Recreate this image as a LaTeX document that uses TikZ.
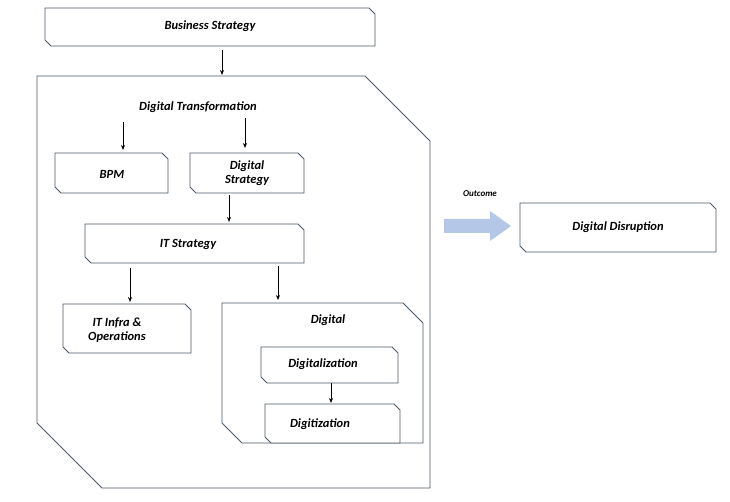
\documentclass[tikz,border=0pt]{standalone}
\usepackage{fontspec}
\setmainfont{Carlito}
\usetikzlibrary{arrows.meta}
\definecolor{edge}{HTML}{4A5868}
\definecolor{blu}{HTML}{B4C7E7}
\tikzset{
  lbl/.style={font=\bfseries\itshape\fontsize{12.5}{14}\selectfont, align=center, inner sep=0pt},
  arr/.style={-{Stealth[length=5pt,width=4pt]}, thick, black},
  box/.style={draw=edge, line width=0.8pt, fill=white}
}
% \cbox{x1}{y1}{x2}{y2}{chamfer}
\newcommand{\cbox}[5]{\draw[box] (#1,#2) -- ({#3-#5},#2) -- (#3,{#2+#5}) -- (#3,#4) -- ({#1+#5},#4) -- (#1,{#4-#5}) -- cycle;}
\begin{document}
\begin{tikzpicture}[x=1pt,y=-1pt]
\useasboundingbox (0,0) rectangle (730,502);
\cbox{45}{8}{375}{46}{6}
\node[lbl] (bs) at (210,26) {Business Strategy};
\cbox{37}{76}{430}{488}{65}
\node[lbl] (dt) at (198,107) {Digital Transformation};
\cbox{55}{153}{168}{193}{6}
\node[lbl] (bpm) at (112,174) {BPM};
\cbox{190}{153}{304}{193}{6}
\node[lbl] (ds) at (247,173) {Digital\\Strategy};
\cbox{85}{224}{304}{263}{6}
\node[lbl] (its) at (188,244) {IT Strategy};
\cbox{63}{304}{191}{353}{6}
\node[lbl] (iti) at (117,330) {IT Infra \&\\Operations};
\cbox{222}{303}{423}{443}{20}
\node[lbl] (dg) at (328,320) {Digital};
\cbox{261}{347}{398}{383}{6}
\node[lbl] (dgl) at (323,364) {Digitalization};
\cbox{265}{404}{400}{443}{6}
\node[lbl] (dgt) at (320,424) {Digitization};
\cbox{520}{203}{716}{252}{6}
\node[lbl] (dd) at (618,227) {Digital Disruption};
\node[font=\bfseries\itshape\fontsize{9}{10}\selectfont, inner sep=0pt] (oc) at (480,194) {Outcome};
\coordinate (a1) at (222,50); \coordinate (a1e) at (222,75);
\draw[arr] (a1) -- (a1e);
\coordinate (b1) at (123,122); \coordinate (b1e) at (123,150);
\draw[arr] (b1) -- (b1e);
\coordinate (c1) at (245,118); \coordinate (c1e) at (245,148);
\draw[arr] (c1) -- (c1e);
\coordinate (d1) at (229,195); \coordinate (d1e) at (229,222);
\draw[arr] (d1) -- (d1e);
\coordinate (e1) at (130,268); \coordinate (e1e) at (130,302);
\draw[arr] (e1) -- (e1e);
\coordinate (f1) at (278,266); \coordinate (f1e) at (278,300);
\draw[arr] (f1) -- (f1e);
\coordinate (g1) at (331,383); \coordinate (g1e) at (331,403);
\draw[arr] (g1) -- (g1e);
\fill[blu] (444,219) -- (490,219) -- (490,211) -- (511,226) -- (490,241) -- (490,233) -- (444,233) -- cycle;
\end{tikzpicture}
\end{document}
